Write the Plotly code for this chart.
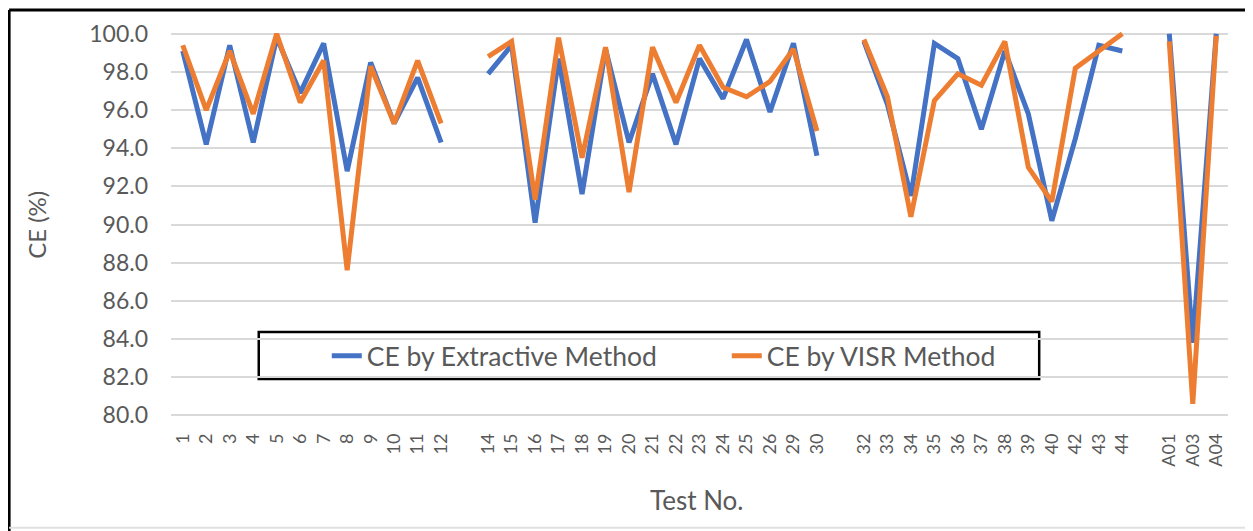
import plotly.graph_objects as go

# ---- data ----
g1_labels = ["1", "2", "3", "4", "5", "6", "7", "8", "9", "10", "11", "12"]
g1_extractive = [99.1, 94.2, 99.4, 94.3, 99.8, 96.9, 99.5, 92.8, 98.5, 95.3, 97.7, 94.3]
g1_visr = [99.4, 96.0, 99.1, 95.8, 100.0, 96.4, 98.6, 87.6, 98.3, 95.3, 98.6, 95.3]

g2_labels = ["14", "15", "16", "17", "18", "19", "20", "21", "22", "23", "24", "25", "26", "29", "30"]
g2_extractive = [97.9, 99.4, 90.1, 98.7, 91.6, 99.2, 94.3, 97.9, 94.2, 98.7, 96.6, 99.7, 95.9, 99.5, 93.6]
g2_visr = [98.8, 99.6, 91.3, 99.8, 93.5, 99.3, 91.7, 99.3, 96.4, 99.4, 97.2, 96.7, 97.5, 99.2, 94.9]

g3_labels = ["32", "33", "34", "35", "36", "37", "38", "39", "40", "42", "43", "44"]
g3_extractive = [99.6, 96.3, 91.5, 99.5, 98.7, 95.0, 99.1, 95.8, 90.2, 94.5, 99.4, 99.1]
g3_visr = [99.7, 96.7, 90.4, 96.5, 97.9, 97.3, 99.6, 93.0, 91.2, 98.2, 99.1, 100.0]

g4_labels = ["A01", "A03", "A04"]
g4_extractive = [100.0, 83.8, 100.0]
g4_visr = [99.6, 80.6, 99.9]

gap_labels = [" ", "  ", "   "]  # empty category slots between groups

y_ticks = [80, 82, 84, 86, 88, 90, 92, 94, 96, 98, 100]

# ---- build the category sequence with gaps ----
groups = [
    (g1_labels, g1_extractive, g1_visr),
    (g2_labels, g2_extractive, g2_visr),
    (g3_labels, g3_extractive, g3_visr),
    (g4_labels, g4_extractive, g4_visr),
]
cats, ext, vis = [], [], []
for i, (lab, e, v) in enumerate(groups):
    cats += lab
    ext += e
    vis += v
    if i < len(gap_labels):
        cats.append(gap_labels[i])
        ext.append(None)
        vis.append(None)

BLUE = "#4472C4"
ORANGE = "#ED7D31"
TXT = "#595959"
FONT = "Lato"

fig = go.Figure()
fig.add_trace(go.Scatter(x=cats, y=ext, mode="lines", name="CE by Extractive Method",
                         line=dict(color=BLUE, width=5), connectgaps=False))
fig.add_trace(go.Scatter(x=cats, y=vis, mode="lines", name="CE by VISR Method",
                         line=dict(color=ORANGE, width=5), connectgaps=False))

# page offset (default body margin) and plot-area geometry in figure pixels
OFF = 8
W, H = 1245, 523
L, R, T, B = 163.3, 25.3, 21.5, 111.9
pw = W - L - R
ph = H - T - B


def px(xs):
    """screen x -> paper x"""
    return (xs - OFF - L) / pw


def py(ys):
    """screen y -> paper y"""
    return (H - B - (ys - OFF)) / ph


fig.update_layout(
    width=W, height=H,
    margin=dict(l=L, r=R, t=T, b=B),
    paper_bgcolor="white", plot_bgcolor="white",
    font=dict(family=FONT, color=TXT),
    showlegend=True,
    legend=dict(orientation="h", x=px(327), xanchor="left", y=py(356), yanchor="middle",
                bgcolor="rgba(0,0,0,0)", borderwidth=0,
                font=dict(family=FONT, size=26.5, color=TXT),
                entrywidth=355, entrywidthmode="pixels"),
    xaxis=dict(type="category", categoryorder="array", categoryarray=cats,
               range=[-0.5, len(cats) - 0.5],
               tickmode="array", tickvals=cats, ticktext=cats,
               tickangle=-90, tickfont=dict(family=FONT, size=18, color=TXT),
               showgrid=False, zeroline=False, showline=False, ticks="",
               ticklabelstandoff=10),
    yaxis=dict(range=[79.8, 100.2], tickmode="array", tickvals=y_ticks,
               tickformat=".1f", tickfont=dict(family=FONT, size=23, color=TXT),
               showgrid=True, gridcolor="#d9d9d9", gridwidth=1.5,
               zeroline=False, showline=False, ticks="", ticklabelstandoff=22),
    shapes=[
        # legend box
        dict(type="rect", xref="paper", yref="paper", x0=px(259), x1=px(1039),
             y0=py(379), y1=py(332), line=dict(color="black", width=2.5),
             fillcolor="white", layer="between"),
        # outer frame
        dict(type="line", xref="paper", yref="paper", x0=px(9.5), x1=px(9.5),
             y0=py(9.5), y1=py(540), line=dict(color="black", width=3)),
        dict(type="line", xref="paper", yref="paper", x0=px(9.5), x1=px(1260),
             y0=py(9.5), y1=py(9.5), line=dict(color="black", width=3)),
        dict(type="line", xref="paper", yref="paper", x0=px(1250), x1=px(1250),
             y0=py(9.5), y1=py(528), line=dict(color="#e0e0e0", width=2)),
        dict(type="line", xref="paper", yref="paper", x0=px(9.5), x1=px(1250),
             y0=py(528), y1=py(528), line=dict(color="#e0e0e0", width=2)),
    ],
    annotations=[
        dict(text="CE (%)", xref="paper", yref="paper", x=px(37), y=py(225),
             showarrow=False, textangle=-90, font=dict(family=FONT, size=24, color=TXT),
             xanchor="center", yanchor="middle"),
        dict(text="Test No.", xref="paper", yref="paper", x=px(697), y=py(500),
             showarrow=False, font=dict(family=FONT, size=26, color=TXT),
             xanchor="center", yanchor="middle"),
    ],
)

fig.write_html("out.html")
